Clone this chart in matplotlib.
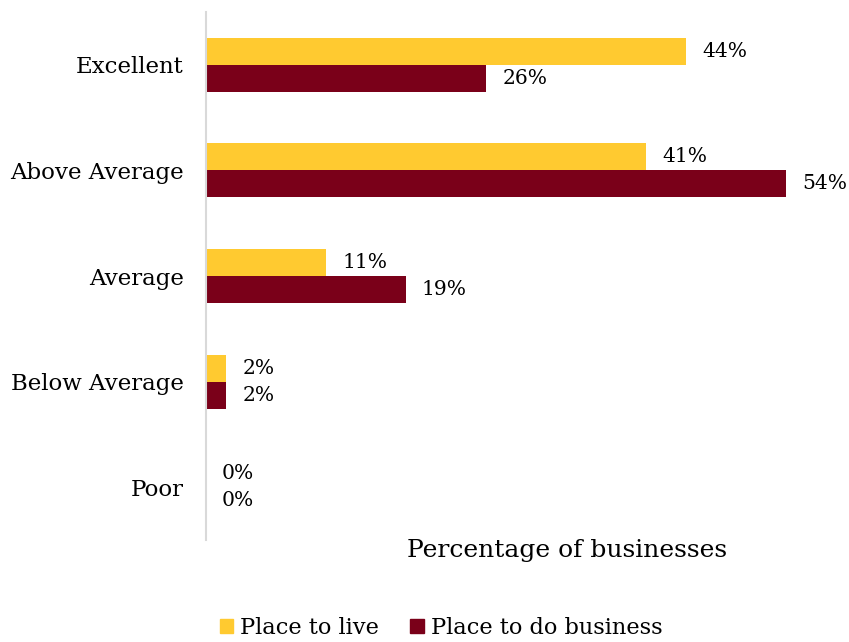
import numpy as np
import matplotlib.pyplot as plt
from matplotlib.patches import Patch

categories = ['Excellent', 'Above Average', 'Average', 'Below Average', 'Poor']
live = [44.7, 41.0, 11.2, 1.9, 0.0]
business = [26.1, 54.0, 18.6, 1.9, 0.0]
live_labels = ['44%', '41%', '11%', '2%', '0%']
business_labels = ['26%', '54%', '19%', '2%', '0%']

gold = '#FFCA30'
maroon = '#7A0019'

plt.rcParams['font.family'] = ['DejaVu Serif']

fig = plt.figure(figsize=(8.49, 6.42), dpi=100)
ax = fig.add_axes([206/849, 1-540/642, 594/849, 528/642])

y = np.arange(len(categories))
h = 0.255
ax.barh(y - h/2, live, height=h, color=gold)
ax.barh(y + h/2, business, height=h, color=maroon)

for i in range(len(categories)):
    ax.annotate(live_labels[i], (live[i], y[i] - h/2), xytext=(16, 0),
                textcoords='offset pixels', va='center', ha='left', fontsize=14.6)
    ax.annotate(business_labels[i], (business[i], y[i] + h/2), xytext=(16, 0),
                textcoords='offset pixels', va='center', ha='left', fontsize=14.6)

ax.set_xlim(0, 594/10.74)
ax.set_ylim(4.5, -0.5)
ax.set_yticks(y)
ax.set_yticklabels(categories, fontsize=16.5)
ax.tick_params(axis='y', length=0, pad=16)
ax.set_xticks([])
for s in ['top', 'right', 'bottom']:
    ax.spines[s].set_visible(False)
ax.spines['left'].set_color('#d9d9d9')
ax.spines['left'].set_linewidth(1.5)

fig.text(567/849, 1-550/642, 'Percentage of businesses', ha='center', va='center', fontsize=18)

handles = [Patch(color=gold, label='Place to live'), Patch(color=maroon, label='Place to do business')]
fig.legend(handles=handles, loc='center', bbox_to_anchor=(441/849, 1-628/642), ncol=2,
           frameon=False, fontsize=16.2, handlelength=0.6, handleheight=0.6,
           handletextpad=0.3, columnspacing=1.4)

fig.savefig('out.png', dpi=100)
